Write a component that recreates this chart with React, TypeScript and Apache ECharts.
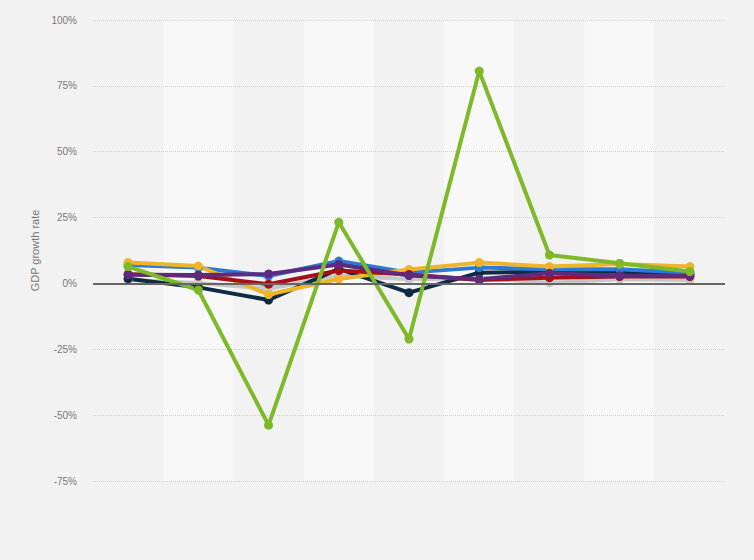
import React, { useEffect, useRef } from "react";
import * as echarts from "echarts";

const categories = ["1", "2", "3", "4", "5", "6", "7", "8", "9"];
const yTicks = [-75, -50, -25, 0, 25, 50, 75, 100];

const grayValues = [1.3, 0.2, -2.0, 3.0, 1.6, 2.0, 0.3, 1.6, 1.3];
const navyValues = [1.8, -1.5, -6.3, 5.5, -3.5, 4.1, 4.4, 4.4, 3.6];
const blueValues = [7.0, 6.0, 2.8, 8.5, 4.1, 6.0, 5.4, 5.4, 4.1];
const yellowValues = [7.9, 6.6, -4.2, 1.7, 5.3, 7.9, 6.4, 7.4, 6.4];
const redValues = [3.5, 2.8, -0.3, 4.9, 3.4, 1.3, 2.2, 2.6, 2.6];
const purpleValues = [3.3, 3.2, 3.6, 7.2, 3.0, 1.6, 3.9, 2.9, 2.9];
const greenValues = [6.4, -2.5, -53.8, 23.2, -21.1, 80.6, 10.8, 7.7, 4.5];

const seriesDefs = [
  { name: "Gray", color: "#c6c6c6", data: grayValues },
  { name: "Navy", color: "#0f2a44", data: navyValues },
  { name: "Blue", color: "#2b7bd6", data: blueValues },
  { name: "Yellow", color: "#eeb42a", data: yellowValues },
  { name: "Red", color: "#a60f17", data: redValues },
  { name: "Purple", color: "#5e2a7e", data: purpleValues },
  { name: "Green", color: "#7db928", data: greenValues },
];

export default function App() {
  const ref = useRef<HTMLDivElement>(null);
  useEffect(() => {
    document.body.style.margin = "0";
    const chart = echarts.init(ref.current!, null, { renderer: "svg" });
    chart.setOption({
      animation: false,
      backgroundColor: "#f2f2f2",
      grid: { left: 93, right: 29, top: 20, bottom: 79 },
      xAxis: {
        type: "category",
        data: categories,
        boundaryGap: true,
        z: 0,
        axisLine: { show: false },
        axisTick: { show: false },
        axisLabel: { show: false },
        splitLine: { show: false },
        splitArea: { show: true, areaStyle: { color: ["#f2f2f2", "#f8f8f8"] } },
      },
      yAxis: {
        type: "value",
        min: -75,
        max: 100,
        interval: 25,
        z: 1,
        name: "GDP growth rate",
        nameLocation: "middle",
        nameGap: 46,
        nameTextStyle: { color: "#777777", fontSize: 11, fontFamily: "Liberation Sans, Arial, sans-serif" },
        axisLine: { show: false },
        axisTick: { show: false },
        axisLabel: {
          color: "#777777",
          fontSize: 10,
          margin: 16,
          fontFamily: "Liberation Sans, Arial, sans-serif",
          formatter: (v: number) => (yTicks.includes(v) ? `${v}%` : ""),
        },
        splitLine: { show: true, lineStyle: { color: "#cfcfcf", type: "dotted", width: 1 } },
      },
      series: [
        ...seriesDefs.map((s) => ({
          name: s.name,
          type: "line",
          z: 3,
          data: s.data,
          symbol: "circle",
          symbolSize: 9,
          lineStyle: { color: s.color, width: 4 },
          itemStyle: { color: s.color },
        })),
        {
          name: "zero",
          type: "line",
          z: 2,
          data: [],
          silent: true,
          markLine: {
            silent: true,
            symbol: "none",
            label: { show: false },
            lineStyle: { color: "#666666", width: 2, type: "solid" },
            data: [{ yAxis: 0 }],
          },
        },
      ],
    });
    return () => chart.dispose();
  }, []);
  return <div ref={ref} style={{ width: 754, height: 560 }} />;
}
